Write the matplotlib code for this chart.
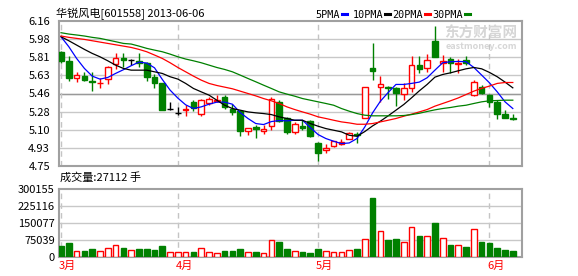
import numpy as np
import matplotlib
matplotlib.use("Agg")
import matplotlib.pyplot as plt
import matplotlib.transforms as mtransforms
from matplotlib.lines import Line2D

plt.rcParams['font.family'] = ['Noto Sans CJK SC', 'DejaVu Sans']

title = "华锐风电[601558] 2013-06-06"
vol_title = "成交量:27112 手"

opens = [5.861, 5.773, 5.608, 5.624, 5.578, 5.556, 5.595, 5.738, 5.796, 5.780,
         5.767, 5.747, 5.614, 5.559, 5.309, 5.270, 5.296, 5.374, 5.260, 5.367,
         5.380, 5.423, 5.309, 5.283, 5.091, 5.130, 5.091, 5.137, 5.374, 5.221,
         5.082, 5.143, 5.189, 4.978, 4.903, 4.942, 4.968, 5.017, 5.065, 5.221,
         5.699, 5.514, 5.520, 5.504, 5.449, 5.504, 5.731, 5.705, 5.965, 5.747,
         5.786, 5.741, 5.780, 5.439, 5.520, 5.439, 5.374, 5.254, 5.215]
highs = [5.868, 5.819, 5.660, 5.660, 5.663, 5.605, 5.725, 5.845, 5.845, 5.786,
         5.845, 5.764, 5.643, 5.559, 5.374, 5.325, 5.341, 5.390, 5.406, 5.423,
         5.439, 5.439, 5.357, 5.293, 5.124, 5.147, 5.147, 5.423, 5.390, 5.228,
         5.179, 5.195, 5.202, 4.984, 4.968, 4.994, 5.017, 5.082, 5.082, 5.514,
         5.949, 5.624, 5.527, 5.520, 5.553, 5.819, 5.819, 5.838, 6.111, 5.829,
         5.806, 5.786, 5.819, 5.585, 5.536, 5.455, 5.390, 5.299, 5.254]
lows = [5.754, 5.579, 5.562, 5.575, 5.481, 5.504, 5.546, 5.689, 5.715, 5.731,
        5.715, 5.575, 5.510, 5.293, 5.293, 5.250, 5.234, 5.286, 5.237, 5.341,
        5.374, 5.309, 5.244, 5.043, 5.049, 5.026, 5.065, 5.098, 5.179, 5.065,
        5.065, 5.098, 5.033, 4.799, 4.880, 4.935, 4.958, 5.010, 4.978, 5.221,
        5.585, 5.374, 5.397, 5.332, 5.390, 5.471, 5.656, 5.666, 5.806, 5.666,
        5.656, 5.650, 5.731, 5.429, 5.449, 5.319, 5.211, 5.218, 5.202]
closes = [5.773, 5.608, 5.634, 5.585, 5.569, 5.560, 5.708, 5.796, 5.777, 5.780,
          5.754, 5.618, 5.559, 5.299, 5.309, 5.270, 5.300, 5.315, 5.390, 5.400,
          5.396, 5.325, 5.276, 5.091, 5.124, 5.111, 5.114, 5.406, 5.189, 5.082,
          5.163, 5.124, 5.043, 4.880, 4.929, 4.991, 4.984, 5.075, 5.049, 5.514,
          5.676, 5.543, 5.510, 5.462, 5.504, 5.731, 5.695, 5.780, 5.806, 5.770,
          5.747, 5.754, 5.747, 5.562, 5.462, 5.374, 5.254, 5.218, 5.211]
volumes = [50030, 63270, 27960, 27960, 36790, 27960, 39730, 52970, 41200, 32370,
           36790, 36790, 32370, 50030, 22070, 22070, 22070, 23540, 39730, 23540,
           17660, 27960, 27960, 36790, 23540, 23540, 17660, 75040, 67690, 36790,
           27960, 23540, 19130, 36790, 27960, 23540, 23540, 32370, 36790, 80930,
           261910, 116240, 76510, 80930, 67690, 132430, 94170, 94170, 151560, 83870,
           54440, 52970, 45610, 123600, 67690, 63270, 41200, 32370, 27112]

ma5 = [6.007, 5.910, 5.796, 5.699, 5.624, 5.595, 5.611, 5.650, 5.686, 5.725,
       5.760, 5.751, 5.705, 5.592, 5.488, 5.410, 5.345, 5.309, 5.325, 5.351,
       5.371, 5.371, 5.351, 5.270, 5.212, 5.163, 5.153, 5.182, 5.192, 5.189,
       5.195, 5.195, 5.124, 5.056, 5.017, 4.991, 4.968, 4.974, 5.017, 5.130,
       5.267, 5.380, 5.465, 5.543, 5.543, 5.553, 5.566, 5.608, 5.682, 5.754,
       5.764, 5.767, 5.764, 5.708, 5.634, 5.559, 5.471, 5.374, 5.309]
ma10 = [6.007, 5.968, 5.926, 5.884, 5.845, 5.812, 5.773, 5.731, 5.699, 5.682,
        5.682, 5.682, 5.666, 5.650, 5.618, 5.595, 5.553, 5.504, 5.471, 5.439,
        5.390, 5.341, 5.309, 5.293, 5.276, 5.267, 5.260, 5.250, 5.228, 5.212,
        5.195, 5.195, 5.163, 5.137, 5.114, 5.098, 5.082, 5.049, 5.039, 5.085,
        5.140, 5.186, 5.238, 5.293, 5.348, 5.413, 5.481, 5.543, 5.614, 5.640,
        5.656, 5.676, 5.695, 5.708, 5.695, 5.660, 5.618, 5.566, 5.510]
ma20 = [6.014, 6.001, 5.991, 5.981, 5.968, 5.955, 5.942, 5.929, 5.916, 5.903,
        5.884, 5.861, 5.829, 5.796, 5.754, 5.708, 5.666, 5.624, 5.585, 5.553,
        5.533, 5.517, 5.501, 5.478, 5.455, 5.432, 5.406, 5.384, 5.358, 5.325,
        5.299, 5.276, 5.254, 5.228, 5.212, 5.195, 5.179, 5.169, 5.156, 5.156,
        5.163, 5.179, 5.195, 5.212, 5.234, 5.254, 5.276, 5.299, 5.332, 5.358,
        5.384, 5.412, 5.445, 5.478, 5.505, 5.527, 5.553, 5.562, 5.562]
ma30 = [6.046, 6.033, 6.024, 6.014, 6.001, 5.991, 5.975, 5.959, 5.942, 5.936,
        5.916, 5.894, 5.877, 5.861, 5.838, 5.812, 5.790, 5.773, 5.754, 5.731,
        5.708, 5.689, 5.666, 5.634, 5.601, 5.569, 5.536, 5.504, 5.471, 5.449,
        5.429, 5.406, 5.390, 5.374, 5.358, 5.341, 5.309, 5.283, 5.260, 5.244,
        5.238, 5.238, 5.238, 5.238, 5.241, 5.250, 5.263, 5.280, 5.296, 5.309,
        5.319, 5.332, 5.341, 5.358, 5.374, 5.384, 5.387, 5.390, 5.390]

ma_names = ["5PMA", "10PMA", "20PMA", "30PMA"]
ma_colors = ["#0000ff", "#000000", "#ff0000", "#008000"]

month_idx = [0, 15, 33, 55]
month_labels = ["3月", "4月", "5月", "6月"]

price_labels = ["4.75", "4.93", "5.10", "5.28", "5.46", "5.63", "5.81", "5.98", "6.16"]
vol_ticks = [0, 75039, 150077, 225116, 300155]

RED = "#ff0000"
GREEN = "#008000"
GRID = "#c8c8c8"
SPINE = "#a0a0a0"

W, H = 578, 276
fig = plt.figure(figsize=(W / 100, H / 100), dpi=100)
ax = fig.add_axes([59 / W, 1 - 166 / H, 463 / W, 145 / H])
ax2 = fig.add_axes([59 / W, 1 - 257.3 / H, 463 / W, 68.3 / H])

x = np.arange(len(closes))
o = np.array(opens)
h = np.array(highs)
l = np.array(lows)
c = np.array(closes)
v = np.array(volumes)
up = c > o
down = c < o
flat = c == o
bw = 0.72

# 网格和月份分隔线
pmin, pmax = 4.75, 6.16
ax.set_ylim(pmin, pmax)
ax.set_xlim(-0.26, 59.18)
ticks = np.linspace(pmin, pmax, len(price_labels))
ax.set_yticks(ticks)
ax.set_yticklabels(price_labels)
for t in ticks[1:-1]:
    ax.axhline(t, color=GRID, lw=1, zorder=0)
ax.axhline(ticks[4], color="#999999", lw=1, zorder=0)
for m in month_idx:
    ax.axvline(m, color="#c4c4c4", lw=1, ls=(0, (4, 3)), zorder=0)
    ax2.axvline(m, color="#c4c4c4", lw=1, ls=(0, (4, 3)), zorder=0)

# K线
cols = np.where(up, RED, np.where(down, GREEN, "black"))
ax.vlines(x, l, h, colors=cols, lw=1, zorder=2)
ax.bar(x[up], (c - o)[up], bottom=o[up], width=bw, facecolor="white",
       edgecolor=RED, lw=1, zorder=3)
ax.bar(x[down], (o - c)[down], bottom=c[down], width=bw, facecolor=GREEN,
       edgecolor=GREEN, lw=1, zorder=3)
ax.hlines(c[flat], x[flat] - bw / 2, x[flat] + bw / 2, colors="black", lw=1, zorder=3)

for vals, col in zip([ma5, ma10, ma20, ma30], ma_colors):
    ax.plot(x, vals, color=col, lw=0.9, zorder=4)

# 成交量
vup = c >= o
ax2.set_xlim(-0.26, 59.18)
ax2.set_ylim(0, vol_ticks[-1])
ax2.set_yticks(vol_ticks)
ax2.set_yticklabels([str(t) for t in vol_ticks])
for t in vol_ticks[1:-1]:
    ax2.axhline(t, color=GRID, lw=1, zorder=0)
ax2.bar(x[vup], v[vup], width=bw, facecolor="white", edgecolor=RED, lw=1, zorder=3)
ax2.bar(x[~vup], v[~vup], width=bw, facecolor=GREEN, edgecolor=GREEN, lw=1, zorder=3)

trans = mtransforms.blended_transform_factory(ax2.transData, ax2.transAxes)
for m, lab in zip(month_idx, month_labels):
    ax2.text(m - 0.3, -0.05, lab, transform=trans, color=RED, fontsize=8,
             ha="left", va="top")

for a, pad in [(ax, 6.5), (ax2, 3)]:
    a.set_xticks([])
    a.tick_params(axis="y", length=0, pad=pad, labelsize=8)
    for s in a.spines.values():
        s.set_color(SPINE)
        s.set_linewidth(1.5)

# 标题与图例
fig.text(56 / W, 1 - 14 / H, title, fontsize=8, ha="left", va="center")
fig.text(60 / W, 1 - 177 / H, vol_title, fontsize=8, ha="left", va="center")
leg_ends = [340, 383, 423, 463]
for name, col, xe in zip(ma_names, ma_colors, leg_ends):
    fig.text(xe / W, 1 - 14.5 / H, name, fontsize=7.3, family="DejaVu Sans Mono",
             ha="right", va="center")
    fig.add_artist(Line2D([(xe + 1.5) / W, (xe + 6.5) / W], [1 - 14 / H, 1 - 14 / H],
                          color=col, lw=2.2, transform=fig.transFigure))

# 水印
fig.text(481 / W, 1 - 33 / H, "东方财富网", fontsize=10.5, fontweight="bold",
         color="#d6d6d6", ha="center", va="center", zorder=1)
fig.text(481 / W, 1 - 46.5 / H, "eastmoney.com", fontsize=6.5, fontweight="bold",
         color="#d6d6d6", ha="center", va="center", zorder=1)

fig.savefig("out.png", dpi=100)
